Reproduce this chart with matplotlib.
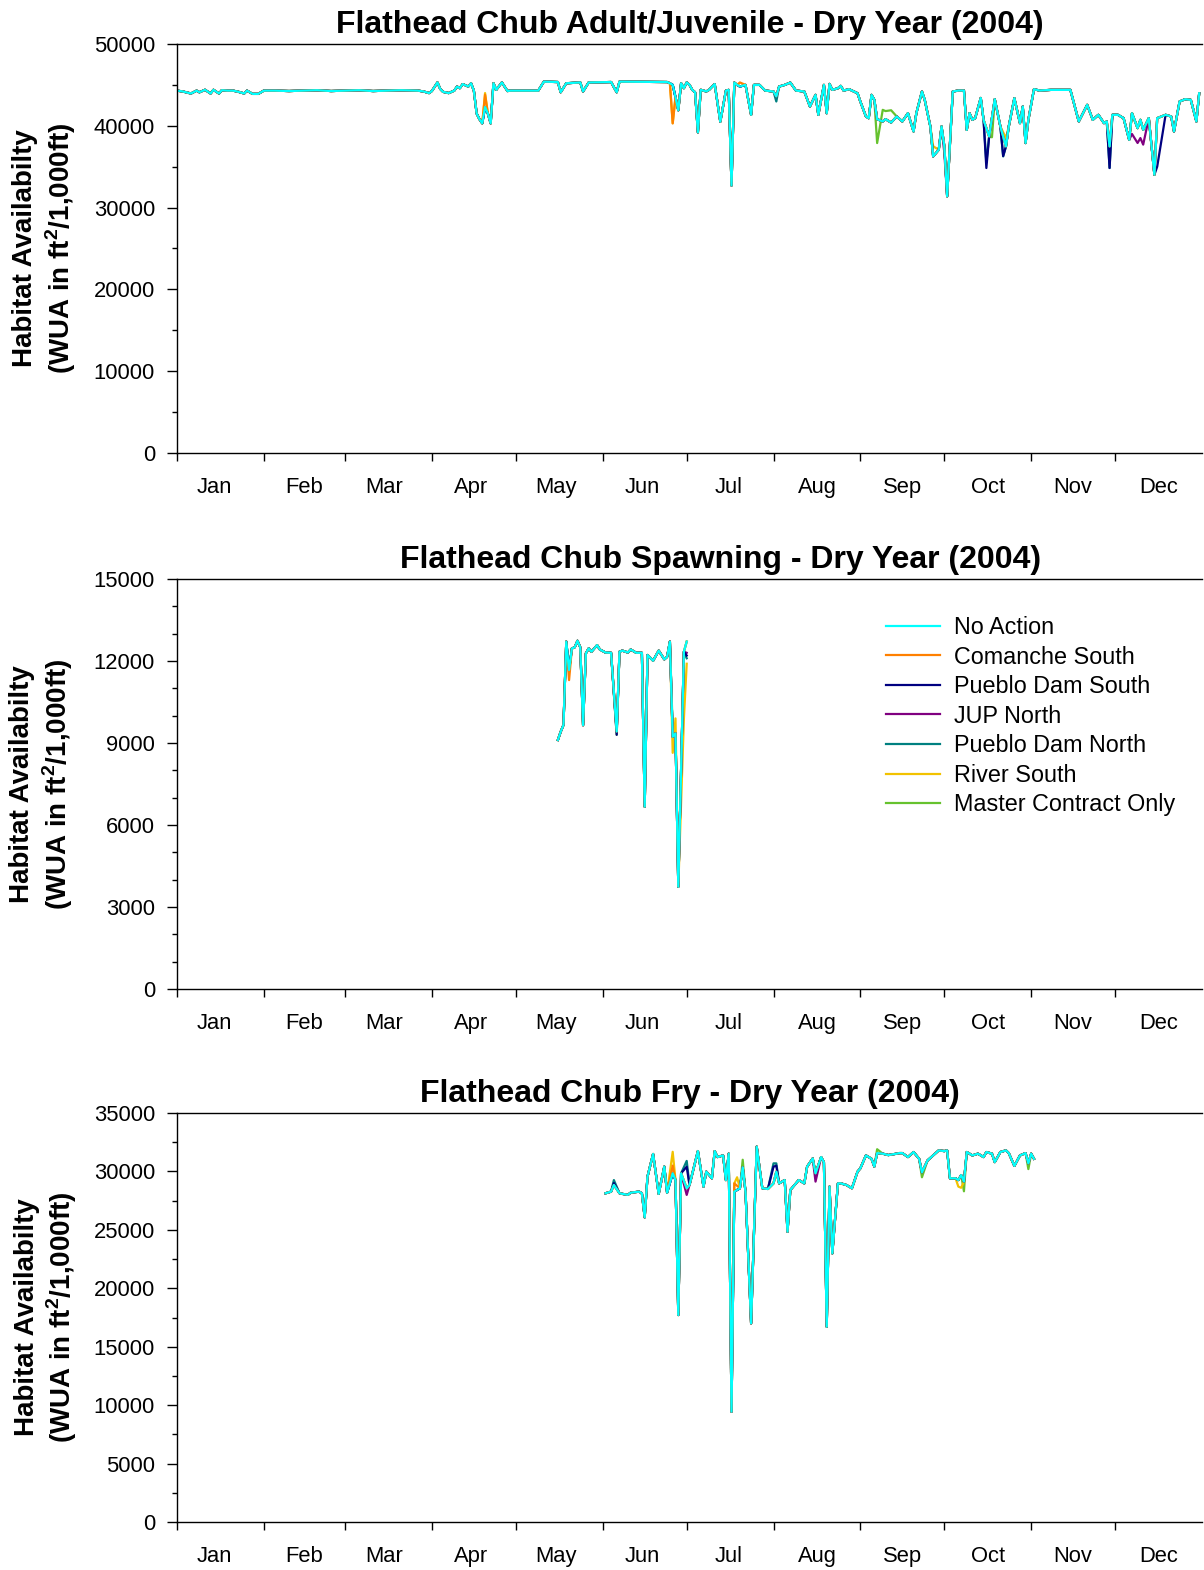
import matplotlib
matplotlib.use("Agg")
import matplotlib.pyplot as plt
from matplotlib.ticker import MultipleLocator, FixedLocator, NullFormatter, FixedFormatter, FuncFormatter

plt.rcParams['font.family'] = ['Liberation Sans', 'DejaVu Sans']
plt.rcParams['mathtext.fontset'] = 'custom'
plt.rcParams['mathtext.rm'] = 'Liberation Sans'
plt.rcParams['mathtext.bf'] = 'Liberation Sans:bold'

# ---------------- data ----------------
series_names = ["No Action", "Comanche South", "Pueblo Dam South", "JUP North",
                "Pueblo Dam North", "River South", "Master Contract Only"]
series_colors = ["#00FFFF", "#FF8000", "#000080", "#800080", "#008080", "#F2C200", "#66C22E"]

month_labels = ["Jan", "Feb", "Mar", "Apr", "May", "Jun", "Jul", "Aug", "Sep", "Oct", "Nov", "Dec"]
month_starts = [0, 31, 60, 91, 121, 152, 182, 213, 244, 274, 305, 335, 366]

titles = ["Flathead Chub Adult/Juvenile - Dry Year (2004)",
          "Flathead Chub Spawning - Dry Year (2004)",
          "Flathead Chub Fry - Dry Year (2004)"]

# Panel 1: Adult/Juvenile (day of year, WUA) -- No Action
p1_days = [0, 2, 5, 7, 8, 10, 12, 13, 15, 16, 18, 20, 22, 24, 25, 27, 29, 31, 35, 40,
           45, 50, 55, 60, 65, 70, 75, 80, 86, 88, 90, 91, 93, 94, 95, 97, 99, 100, 101, 102,
           104, 105, 106, 107, 108, 109, 110, 111, 112, 113, 114, 116, 118, 119, 125, 129, 131, 136, 137, 139,
           144, 145, 147, 155, 157, 158, 175, 176, 177, 178, 179, 180, 181, 182, 183, 184, 185, 186, 187, 189,
           190, 192, 194, 196, 197, 198, 199, 200, 201, 203, 205, 206, 208, 210, 213, 214, 215, 217, 219, 221,
           224, 226, 228, 229, 231, 232, 233, 234, 236, 237, 238, 240, 243, 244, 246, 247, 248, 249, 250, 252,
           253, 255, 257, 259, 261, 263, 264, 266, 267, 269, 270, 272, 273, 274, 275, 277, 279, 281, 282, 283,
           284, 285, 287, 288, 290, 292, 294, 296, 297, 299, 301, 302, 303, 304, 306, 308, 312, 316, 319, 322,
           325, 327, 329, 331, 332, 333, 334, 336, 338, 340, 341, 343, 344, 345, 347, 349, 350, 353, 355, 356,
           358, 360, 362, 364, 365]
p1_no_action = [44300, 44200, 43950, 44300, 44100, 44400, 43950, 44400, 43950, 44350, 44300, 44300, 44150, 43950, 44300, 43900, 43900, 44300, 44300, 44250,
                44300, 44350, 44250, 44300, 44350, 44250, 44300, 44350, 44300, 44200, 44000, 44250, 45300, 44500, 44150, 44000, 44300, 44800, 44600, 45100,
                44800, 45200, 44300, 41500, 40800, 40300, 42300, 41500, 40300, 45200, 44400, 45300, 44250, 44300, 44300, 44300, 45400, 45350, 44100, 45200,
                45300, 44200, 45300, 45350, 44100, 45400, 45350, 45200, 45000, 43500, 41900, 45200, 44600, 45300, 45000, 44390, 44100, 39200, 44400, 44200,
                44400, 45100, 40500, 44300, 44390, 32700, 45280, 45000, 44800, 45000, 41340, 45000, 45000, 44310, 44190, 43600, 44800, 45000, 45280, 44310,
                44190, 42360, 43780, 41340, 45000, 41540, 45120, 44390, 44590, 44880, 44310, 44470, 43980, 42970, 41140, 40930, 43780, 43170, 40810, 40530,
                40810, 40400, 41140, 40530, 41540, 39310, 41540, 44190, 43170, 39920, 36260, 37070, 39920, 37500, 31380, 44190, 44310, 44310, 39500, 41540,
                40730, 40935, 43400, 40730, 38700, 43250, 39920, 37480, 39920, 43370, 40325, 42360, 37890, 40730, 44470, 44310, 44390, 44390, 44390, 40530,
                42560, 40730, 41340, 40325, 40530, 37480, 41340, 41340, 40935, 38290, 41540, 39715, 40730, 39510, 40935, 34020, 40935, 41340, 41140, 39310,
                42970, 43250, 43170, 40530, 43980]
# other alternatives: values on the days where they differ from No Action
p1_other = {
    "Comanche South": {110: 43800, 177: 40300, 201: 45300},
    "Pueblo Dam South": {289: 34840, 295: 36300, 333: 34840, 350: 35000},
    "JUP North": {274: 36670, 341: 39000, 343: 37900, 344: 38500, 345: 37700},
    "Pueblo Dam North": {214: 42970, 289: 35500, 295: 36260, 333: 34840},
    "River South": {110: 44000, 177: 40300, 270: 37500, 296: 38500},
    "Master Contract Only": {250: 37890, 252: 41950, 253: 41800, 255: 41900, 291: 38600},
}

# Panel 2: Spawning
p2_days = [136, 137, 138, 139, 140, 141, 142, 143, 144, 145, 146, 147, 148, 150, 151, 153, 155, 157, 158, 159,
           161, 162, 164, 166, 167, 168, 170, 172, 174, 175, 176, 177, 178, 179, 181, 182]
p2_no_action = [9110, 9410, 9660, 12710, 11670, 12460, 12500, 12740, 12500, 9650, 12280, 12460, 12340, 12580, 12420, 12310, 12300, 9420, 12340, 12380,
                12310, 12420, 12300, 12300, 6670, 12220, 12010, 12380, 12060, 12150, 12710, 9230, 9350, 3740, 12340, 12710]
p2_other = {
    "Comanche South": {140: 11300},
    "Pueblo Dam South": {157: 9300, 182: 12200},
    "JUP North": {140: 11600, 182: 12300},
    "Pueblo Dam North": {182: 12100},
    "River South": {177: 8640, 178: 9900, 181: 9890, 182: 11900},
    "Master Contract Only": {157: 9300, 177: 9500},
}

# Panel 3: Fry
p3_days = [153, 155, 156, 158, 159, 161, 162, 165, 166, 167, 168, 170, 172, 174, 175, 177, 178, 179, 180, 182,
           183, 186, 188, 189, 191, 192, 193, 195, 196, 197, 198, 199, 201, 202, 203, 205, 207, 209, 211, 213,
           214, 215, 217, 218, 219, 222, 224, 225, 227, 228, 230, 231, 232, 233, 234, 236, 237, 239, 241, 243,
           244, 246, 248, 249, 250, 252, 254, 257, 258, 259, 261, 263, 265, 266, 268, 270, 272, 274, 275, 276,
           278, 279, 280, 281, 282, 284, 286, 288, 289, 291, 292, 294, 296, 297, 299, 301, 303, 304, 305, 306]
p3_no_action = [28130, 28270, 28840, 28130, 28080, 28000, 28180, 28270, 28130, 26070, 29550, 31490, 28080, 30410, 28180, 29840, 29260, 17710, 29840, 28560,
                28840, 31740, 28700, 29980, 29410, 31740, 31230, 31370, 29260, 31520, 9440, 28270, 28560, 30350, 28270, 17000, 32120, 28560, 28500, 28980,
                29980, 28980, 29260, 24840, 28410, 29260, 28980, 30410, 31110, 29840, 31230, 30780, 16710, 28700, 22990, 28980, 28980, 28840, 28560, 29980,
                30260, 31370, 31080, 30410, 31570, 31520, 31400, 31520, 31570, 31570, 31230, 31660, 31080, 29920, 30940, 31370, 31800, 31740, 31800, 29410,
                29410, 29260, 29690, 29130, 31660, 31370, 31520, 31230, 31660, 31520, 30800, 31660, 31800, 31570, 30470, 31370, 31570, 30690, 31520, 31080]
p3_other = {
    "Comanche South": {177: 30500, 199: 28980},
    "Pueblo Dam South": {156: 29000, 182: 30400, 213: 30400, 214: 30500},
    "JUP North": {182: 27990, 228: 29130},
    "Pueblo Dam North": {156: 29260, 182: 30900, 213: 30690, 214: 30690},
    "River South": {177: 31680, 199: 28980, 200: 29500, 279: 28700, 280: 28600},
    "Master Contract Only": {156: 29000, 202: 31000, 250: 31900, 266: 29500, 281: 28300, 304: 30200},
}

panels = [
    (p1_days, p1_no_action, p1_other, 50000, 10000, 5000),
    (p2_days, p2_no_action, p2_other, 15000, 3000, 1000),
    (p3_days, p3_no_action, p3_other, 35000, 5000, 2500),
]

# ---------------- layout ----------------
W, H = 1204, 1570
fig = plt.figure(figsize=(W / 100, H / 100), dpi=100)
ax_px = [(44, 453), (579, 989), (1113, 1522)]
ylabel_x = [45, 42, 46.5]
title_x = [0.5, 0.53, 0.5]
label_shift = [-2, 0, -1.5, -1, -1, -1, -0.5, 0, 0, 0, 0, 0]   # label placement tweak (days)
left_px, right_px = 177, 1202

axes = []
for i, (days, base, other, ymax, ymaj, ymin) in enumerate(panels):
    top, bot = ax_px[i]
    ax = fig.add_axes([left_px / W, 1 - bot / H, (right_px - left_px) / W, (bot - top) / H])
    axes.append(ax)

    lines = {}
    for name, col in reversed(list(zip(series_names, series_colors))):
        pts = dict(zip(days, base))
        if name != "No Action":
            pts.update(other.get(name, {}))
        xs = sorted(pts)
        ys = [pts[d] for d in xs]
        ln, = ax.plot(xs, ys, color=col, lw=1.6, solid_joinstyle='round')
        lines[name] = ln

    ax.set_xlim(0, 366)
    ax.set_ylim(0, ymax)
    ax.yaxis.set_major_locator(MultipleLocator(ymaj))
    ax.yaxis.set_minor_locator(MultipleLocator(ymin))
    ax.yaxis.set_major_formatter(FuncFormatter(lambda v, p: f"{int(v)}"))

    ax.xaxis.set_major_locator(FixedLocator(month_starts[:-1]))
    ax.xaxis.set_major_formatter(NullFormatter())
    mids = [(month_starts[k] + month_starts[k + 1]) / 2 + label_shift[k] for k in range(12)]
    ax.xaxis.set_minor_locator(FixedLocator(mids))
    ax.xaxis.set_minor_formatter(FixedFormatter(month_labels))

    ax.tick_params(axis='y', which='major', direction='out', length=7.2, width=1.0, pad=8.6, labelsize=15.8)
    ax.tick_params(axis='y', which='minor', direction='out', length=3.6, width=1.0)
    ax.tick_params(axis='x', which='major', direction='out', length=5.8, width=1.0)
    ax.tick_params(axis='x', which='minor', length=0, pad=17, labelsize=15.8)

    for s in ['left', 'bottom', 'top']:
        ax.spines[s].set_linewidth(1.0)
    ax.spines['right'].set_visible(False)

    ax.set_title(titles[i], fontsize=23, fontweight='bold', pad=8, x=title_x[i])

    fig.text(ylabel_x[i] / W, 1 - (top + bot) / 2 / H,
             "Habitat Availabilty\n(WUA in ft$^\\mathbf{2}$/1,000ft)",
             rotation=90, ha='center', va='center', fontsize=20, fontweight='bold',
             multialignment='center', linespacing=1.2)

    if i == 1:
        handles = [lines[n] for n in series_names]
        fig.legend(handles, series_names, loc='upper left',
                   bbox_to_anchor=(886 / W, 1 - 616 / H), bbox_transform=fig.transFigure,
                   frameon=False, fontsize=16.8, borderpad=0, borderaxespad=0,
                   handlelength=2.32, handletextpad=0.6, labelspacing=0.28)

fig.savefig("out.png", dpi=100)
